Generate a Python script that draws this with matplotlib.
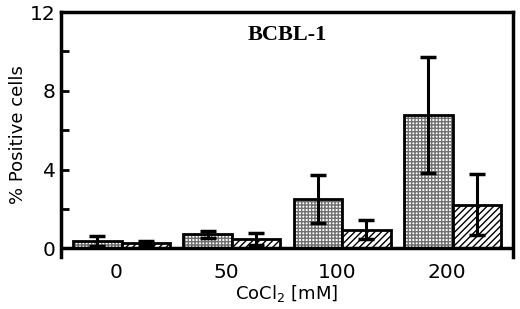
import numpy as np
import matplotlib.pyplot as plt

plt.rcParams['hatch.linewidth'] = 1.0

# 데이터
doses = ['0', '50', '100', '200']
dotted_vals = [0.35, 0.7, 2.5, 6.75]
dotted_err = [0.25, 0.2, 1.2, 2.95]
hatched_vals = [0.25, 0.45, 0.95, 2.2]
hatched_err = [0.1, 0.3, 0.5, 1.55]

x = np.arange(len(doses))
w = 0.44

fig = plt.figure(figsize=(5.2, 3.09), dpi=100)
ax = fig.add_axes([0.117, 0.168, 0.870, 0.793])

# 점무늬 막대 (회색 격자) + 외곽선
ax.bar(x - w / 2, dotted_vals, w, color='white', edgecolor='#707070',
       linewidth=0, hatch='+++++', zorder=2)
ax.bar(x - w / 2, dotted_vals, w, color='none', edgecolor='black',
       linewidth=2, zorder=2)
ax.bar(x + w / 2, hatched_vals, w, color='white', edgecolor='black',
       linewidth=2, hatch='/////', zorder=2)
ax.errorbar(x - w / 2, dotted_vals, yerr=dotted_err, fmt='none',
            ecolor='black', elinewidth=2.2, capsize=5.5, capthick=2.5, zorder=3)
ax.errorbar(x + w / 2, hatched_vals, yerr=hatched_err, fmt='none',
            ecolor='black', elinewidth=2.2, capsize=5.5, capthick=2.5, zorder=3)

ax.axhline(0, color='black', linewidth=2.5, zorder=4)
ax.set_xlim(-0.55, 3.55)
ax.set_ylim(-0.45, 12)
ax.spines['bottom'].set_visible(False)
for s in ['left', 'right', 'top']:
    ax.spines[s].set_linewidth(2.5)

ax.set_yticks([0, 4, 8, 12])
ax.set_yticks([2, 6, 10], minor=True)
ax.tick_params(axis='y', which='both', direction='in', length=6, width=2,
               labelsize=14.5)
ax.set_xticks(x - 0.05)
ax.set_xticklabels(doses)
ax.tick_params(axis='x', length=0, labelsize=14.5, pad=4)

ax.set_ylabel('% Positive cells', fontsize=13, labelpad=2)
ax.set_xlabel('CoCl$_2$ [mM]', fontsize=13, labelpad=1)
ax.text(0.5, 0.905, 'BCBL-1', transform=ax.transAxes, ha='center', va='center',
        fontsize=16, fontweight='bold', family='Liberation Serif')

plt.savefig('out.png', dpi=100)
